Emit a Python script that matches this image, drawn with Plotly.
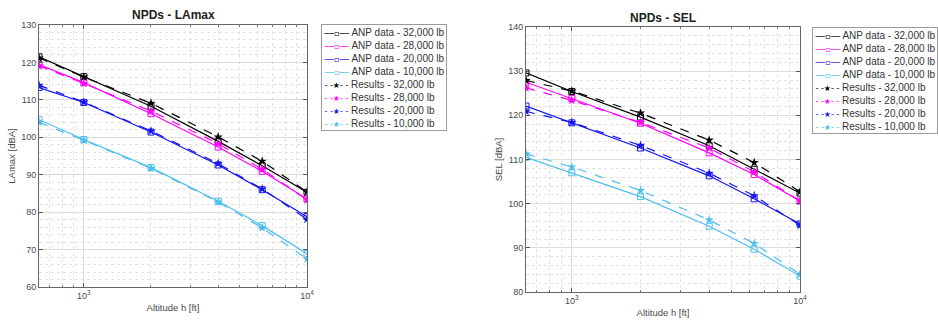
import plotly.graph_objects as go

# ---------------- data ----------------
altitude_ft = [630, 1000, 2000, 4000, 6300, 10000]
weights = ["32,000 lb", "28,000 lb", "20,000 lb", "10,000 lb"]
colors = ["#000000", "#FF00FF", "#1414F0", "#4DBEEE"]

# LAmax [dBA]
lamax_anp_32k = [121.5, 116.2, 108.3, 98.9, 92.4, 85.3]
lamax_anp_28k = [119.4, 114.6, 106.3, 97.4, 90.9, 83.5]
lamax_anp_20k = [113.3, 109.3, 101.4, 92.6, 86.0, 78.8]
lamax_anp_10k = [104.7, 99.4, 91.9, 82.9, 76.4, 68.9]
lamax_res_32k = [121.2, 116.1, 109.1, 100.1, 93.6, 85.4]
lamax_res_28k = [119.1, 114.4, 107.0, 98.3, 91.5, 83.3]
lamax_res_20k = [113.9, 109.4, 101.7, 93.0, 86.2, 78.1]
lamax_res_10k = [104.0, 99.2, 91.7, 82.7, 75.8, 67.5]

# SEL [dBA]
sel_anp_32k = [129.6, 125.4, 119.6, 113.1, 107.8, 102.4]
sel_anp_28k = [127.5, 123.8, 118.2, 111.5, 106.6, 100.6]
sel_anp_20k = [122.1, 118.3, 112.6, 106.3, 101.1, 95.4]
sel_anp_10k = [110.5, 107.0, 101.6, 94.9, 89.7, 83.6]
sel_res_32k = [127.9, 125.5, 120.5, 114.4, 109.3, 102.7]
sel_res_28k = [126.2, 123.4, 118.4, 112.6, 107.2, 100.6]
sel_res_20k = [120.9, 118.4, 113.2, 106.9, 101.8, 95.1]
sel_res_10k = [111.3, 108.3, 103.0, 96.3, 91.0, 84.0]

lamax_anp = [lamax_anp_32k, lamax_anp_28k, lamax_anp_20k, lamax_anp_10k]
lamax_res = [lamax_res_32k, lamax_res_28k, lamax_res_20k, lamax_res_10k]
sel_anp = [sel_anp_32k, sel_anp_28k, sel_anp_20k, sel_anp_10k]
sel_res = [sel_res_32k, sel_res_28k, sel_res_20k, sel_res_10k]

x_major = [1000, 10000]
x_major_text = ["10<sup>3</sup>", "10<sup>4</sup>"]
x_minor = [700, 800, 900, 2000, 3000, 4000, 5000, 6000, 7000, 8000, 9000]

FONT = "Liberation Sans, Arial, sans-serif"
TXT = "#4a4a4a"

fig = go.Figure()


def add_panel(anp, res, xa, ya):
    for i, w in enumerate(weights):
        fig.add_trace(go.Scatter(
            x=altitude_ft, y=anp[i], xaxis=xa, yaxis=ya, showlegend=False,
            mode="lines+markers", name=f"ANP data - {w}",
            line=dict(color=colors[i], width=1.2),
            marker=dict(symbol="square-open", size=6, color=colors[i],
                        line=dict(width=1, color=colors[i])),
        ))
    for i, w in enumerate(weights):
        fig.add_trace(go.Scatter(
            x=altitude_ft, y=res[i], xaxis=xa, yaxis=ya, showlegend=False,
            mode="lines+markers", name=f"Results - {w}",
            line=dict(color=colors[i], width=1.2, dash="dash"),
            marker=dict(symbol="star", size=7, color=colors[i]),
        ))


add_panel(lamax_anp, lamax_res, "x", "y")
add_panel(sel_anp, sel_res, "x2", "y2")

W, H = 938, 322


def xaxis(dom, anchor):
    return dict(
        type="log", domain=dom, anchor=anchor, range=[2.7993, 4.0], automargin=False,
        tickmode="array", tickvals=x_major, ticktext=x_major_text,
        ticks="inside", ticklen=4, tickcolor="#555",
        showline=True, linecolor="#666", linewidth=1, mirror="ticks",
        showgrid=True, gridcolor="#DCDCDC", gridwidth=1,
        minor=dict(tickmode="array", tickvals=x_minor, ticks="inside",
                   ticklen=2, tickcolor="#777", showgrid=True,
                   gridcolor="#E2E2E2", griddash="dot", gridwidth=1),
        tickfont=dict(family=FONT, size=9, color=TXT),
        title=dict(text="Altitude h [ft]", font=dict(family=FONT, size=9.5, color=TXT), standoff=4),
        zeroline=False,
    )


def yaxis(dom, anchor, rng, label):
    return dict(
        domain=dom, anchor=anchor, range=rng, dtick=10, automargin=False,
        ticks="inside", ticklen=4, tickcolor="#555",
        showline=True, linecolor="#666", linewidth=1, mirror="ticks",
        showgrid=True, gridcolor="#DCDCDC", gridwidth=1,
        minor=dict(dtick=2, ticks="", showgrid=True,
                   gridcolor="#E2E2E2", griddash="dot", gridwidth=1),
        tickfont=dict(family=FONT, size=9, color=TXT),
        title=dict(text=label, font=dict(family=FONT, size=9.5, color=TXT), standoff=3),
        zeroline=False,
    )


GLY = "font-family:DejaVu Sans;font-size:8px"


def legend_text():
    rows = []
    for i, w in enumerate(weights):
        rows.append(f"<span style='color:{colors[i]};{GLY}'>──▫──</span> ANP data - {w}")
    for i, w in enumerate(weights):
        rows.append(f"<span style='color:{colors[i]};{GLY}'>- -★- -</span> Results - {w}")
    return "<br>".join(rows)


legend_common = dict(
    xref="paper", yref="paper", showarrow=False, xanchor="left", yanchor="top",
    align="left", bgcolor="white", bordercolor="#9a9a9a", borderwidth=1, borderpad=1.5,
    font=dict(family=FONT, size=10, color="#333"),
)

fig.update_layout(
    width=W, height=H,
    margin=dict(l=0, r=0, t=0, b=0, autoexpand=False),
    paper_bgcolor="white", plot_bgcolor="white",
    showlegend=False,
    xaxis=xaxis([39 / W, 307 / W], "y"),
    yaxis=yaxis([1 - 287 / H, 1 - 25 / H], "x", [60, 130], "LAmax [dBA]"),
    xaxis2=xaxis([526 / W, 800 / W], "y2"),
    yaxis2=yaxis([1 - 292 / H, 1 - 27 / H], "x2", [80, 140], "SEL [dBA]"),
    annotations=[
        dict(text="<b>NPDs - LAmax</b>", x=173 / W, y=1 - 15 / H, xref="paper", yref="paper",
             showarrow=False, font=dict(family=FONT, size=12, color="#222"),
             xanchor="center", yanchor="middle"),
        dict(text="<b>NPDs - SEL</b>", x=663 / W, y=1 - 18 / H, xref="paper", yref="paper",
             showarrow=False, font=dict(family=FONT, size=12, color="#222"),
             xanchor="center", yanchor="middle"),
        dict(text=legend_text(), x=321 / W, y=1 - 24 / H, **legend_common),
        dict(text=legend_text(), x=812 / W, y=1 - 27 / H, **legend_common),
    ],
)

fig.write_html("out.html", config={"displayModeBar": False},
               post_script="document.body.style.margin='0';")
